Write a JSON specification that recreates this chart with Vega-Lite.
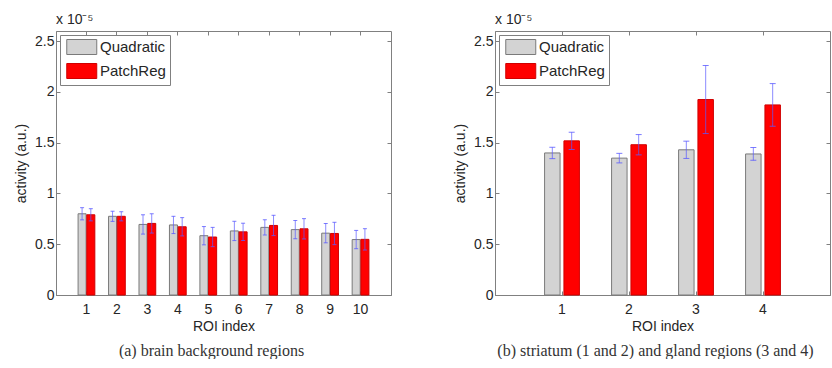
{
  "$schema": "https://vega.github.io/schema/vega-lite/v6.json",
  "background": "white",
  "padding": {"left": 14, "top": 12, "right": 0, "bottom": 0},
  "datasets": {
    "brain": [
      {"roi": 1, "method": "Quadratic", "mean": 0.80, "err": 0.06},
      {"roi": 1, "method": "PatchReg", "mean": 0.79, "err": 0.06},
      {"roi": 2, "method": "Quadratic", "mean": 0.775, "err": 0.05},
      {"roi": 2, "method": "PatchReg", "mean": 0.775, "err": 0.045},
      {"roi": 3, "method": "Quadratic", "mean": 0.695, "err": 0.095},
      {"roi": 3, "method": "PatchReg", "mean": 0.705, "err": 0.095},
      {"roi": 4, "method": "Quadratic", "mean": 0.69, "err": 0.085},
      {"roi": 4, "method": "PatchReg", "mean": 0.672, "err": 0.09},
      {"roi": 5, "method": "Quadratic", "mean": 0.584, "err": 0.09},
      {"roi": 5, "method": "PatchReg", "mean": 0.571, "err": 0.095},
      {"roi": 6, "method": "Quadratic", "mean": 0.631, "err": 0.095},
      {"roi": 6, "method": "PatchReg", "mean": 0.622, "err": 0.085},
      {"roi": 7, "method": "Quadratic", "mean": 0.666, "err": 0.075},
      {"roi": 7, "method": "PatchReg", "mean": 0.685, "err": 0.10},
      {"roi": 8, "method": "Quadratic", "mean": 0.644, "err": 0.09},
      {"roi": 8, "method": "PatchReg", "mean": 0.652, "err": 0.10},
      {"roi": 9, "method": "Quadratic", "mean": 0.609, "err": 0.095},
      {"roi": 9, "method": "PatchReg", "mean": 0.606, "err": 0.11},
      {"roi": 10, "method": "Quadratic", "mean": 0.546, "err": 0.09},
      {"roi": 10, "method": "PatchReg", "mean": 0.548, "err": 0.105}
    ],
    "striatum": [
      {"roi": 1, "method": "Quadratic", "mean": 1.399, "err": 0.056},
      {"roi": 1, "method": "PatchReg", "mean": 1.518, "err": 0.085},
      {"roi": 2, "method": "Quadratic", "mean": 1.348, "err": 0.047},
      {"roi": 2, "method": "PatchReg", "mean": 1.48, "err": 0.10},
      {"roi": 3, "method": "Quadratic", "mean": 1.43, "err": 0.085},
      {"roi": 3, "method": "PatchReg", "mean": 1.925, "err": 0.335},
      {"roi": 4, "method": "Quadratic", "mean": 1.389, "err": 0.063},
      {"roi": 4, "method": "PatchReg", "mean": 1.872, "err": 0.21}
    ]
  },
  "config": {
    "font": "Liberation Sans",
    "view": {"stroke": "#808080", "strokeWidth": 1},
    "axis": {
      "domainColor": "#808080",
      "tickColor": "#808080",
      "labelColor": "#262626",
      "titleColor": "#262626",
      "labelFont": "Liberation Sans",
      "titleFont": "Liberation Sans",
      "labelFontSize": 14,
      "titleFontSize": 14,
      "titleFontWeight": "normal",
      "grid": false,
      "tickSize": -4
    },
    "legend": {
      "orient": "top-left",
      "offset": 4,
      "padding": 4,
      "strokeColor": "#808080",
      "fillColor": "white",
      "labelFont": "Liberation Sans",
      "labelFontSize": 15,
      "labelColor": "#262626",
      "labelOffset": 20,
      "rowPadding": 4,
      "symbolType": "M-0.7,-1H3.3V1H-0.7Z",
      "symbolSize": 225,
      "symbolStrokeWidth": 1,
      "symbolOpacity": 1
    },
    "title": {"font": "Liberation Sans", "fontWeight": "normal", "color": "#262626"}
  },
  "resolve": {
    "scale": {"x": "independent", "xOffset": "independent", "y": "independent", "color": "independent", "stroke": "independent"},
    "legend": {"color": "independent", "stroke": "independent"}
  },
  "spacing": 61,
  "hconcat": [
    {
      "width": 335,
      "height": 264,
      "data": {"name": "brain"},
      "title": {"text": "x 10⁻⁵", "anchor": "start", "frame": "group", "fontSize": 14, "offset": 4},
      "resolve": {"axis": {"x": "independent", "y": "independent"}},
      "layer": [
        {
          "mark": {"type": "bar", "strokeWidth": 1},
          "encoding": {
            "x": {"field": "roi", "type": "ordinal", "sort": "ascending", "scale": {"paddingInner": 0.45, "paddingOuter": 0.725},
                  "axis": {"title": "ROI index", "labelAngle": 0, "labelPadding": 11, "titlePadding": 3}},
            "xOffset": {"field": "method", "type": "nominal", "sort": ["Quadratic", "PatchReg"], "scale": {"paddingInner": 0.08}},
            "y": {"field": "mean", "type": "quantitative", "scale": {"domain": [0, 2.5]},
                  "axis": {"title": "activity (a.u.)", "values": [0, 0.5, 1, 1.5, 2, 2.5], "format": "~g", "labelPadding": 6, "titlePadding": 6}},
            "color": {"field": "method", "type": "nominal", "sort": ["Quadratic", "PatchReg"], "legend": {"title": null},
                      "scale": {"domain": ["Quadratic", "PatchReg"], "range": ["#d3d3d3", "#ff0000"]}},
            "stroke": {"field": "method", "type": "nominal", "sort": ["Quadratic", "PatchReg"], "legend": {"title": null},
                       "scale": {"domain": ["Quadratic", "PatchReg"], "range": ["#7a7a7a", "#d00000"]}}
          }
        },
        {
          "mark": {"type": "errorbar", "ticks": {"size": 4, "color": "#5a5aff", "opacity": 0.8}, "rule": {"color": "#5a5aff", "opacity": 0.7}},
          "encoding": {
            "x": {"field": "roi", "type": "ordinal", "sort": "ascending", "axis": null},
            "xOffset": {"field": "method", "type": "nominal", "sort": ["Quadratic", "PatchReg"]},
            "y": {"field": "mean", "type": "quantitative", "axis": null},
            "yError": {"field": "err"}
          }
        },
        {
          "mark": {"type": "tick", "opacity": 0},
          "encoding": {
            "x": {"field": "roi", "type": "ordinal", "sort": "ascending",
                  "axis": {"orient": "bottom", "labels": false, "ticks": false, "domain": false, "title": "(a) brain background regions",
                           "titleFont": "Liberation Serif", "titleFontSize": 16, "titleColor": "#333333", "titlePadding": 47, "titleX": 155}},
            "y": {"field": "mean", "type": "quantitative",
                  "axis": {"orient": "right", "labels": false, "domain": false, "title": null, "values": [0, 0.5, 1, 1.5, 2, 2.5]}}
          }
        },
        {
          "mark": {"type": "tick", "opacity": 0},
          "encoding": {
            "x": {"field": "roi", "type": "ordinal", "sort": "ascending",
                  "axis": {"orient": "top", "labels": false, "domain": false, "title": null}}
          }
        }
      ]
    },
    {
      "width": 335,
      "height": 264,
      "data": {"name": "striatum"},
      "title": {"text": "x 10⁻⁵", "anchor": "start", "frame": "group", "fontSize": 14, "offset": 4},
      "resolve": {"axis": {"x": "independent", "y": "independent"}},
      "layer": [
        {
          "mark": {"type": "bar", "strokeWidth": 1},
          "encoding": {
            "x": {"field": "roi", "type": "ordinal", "sort": "ascending", "scale": {"paddingInner": 0.48, "paddingOuter": 0.74},
                  "axis": {"title": "ROI index", "labelAngle": 0, "labelPadding": 11, "titlePadding": 3}},
            "xOffset": {"field": "method", "type": "nominal", "sort": ["Quadratic", "PatchReg"], "scale": {"paddingInner": 0.2}},
            "y": {"field": "mean", "type": "quantitative", "scale": {"domain": [0, 2.5]},
                  "axis": {"title": "activity (a.u.)", "values": [0, 0.5, 1, 1.5, 2, 2.5], "format": "~g", "labelPadding": 6, "titlePadding": 6}},
            "color": {"field": "method", "type": "nominal", "sort": ["Quadratic", "PatchReg"], "legend": {"title": null},
                      "scale": {"domain": ["Quadratic", "PatchReg"], "range": ["#d3d3d3", "#ff0000"]}},
            "stroke": {"field": "method", "type": "nominal", "sort": ["Quadratic", "PatchReg"], "legend": {"title": null},
                       "scale": {"domain": ["Quadratic", "PatchReg"], "range": ["#7a7a7a", "#d00000"]}}
          }
        },
        {
          "mark": {"type": "errorbar", "ticks": {"size": 6, "color": "#5a5aff", "opacity": 0.8}, "rule": {"color": "#5a5aff", "opacity": 0.7}},
          "encoding": {
            "x": {"field": "roi", "type": "ordinal", "sort": "ascending", "axis": null},
            "xOffset": {"field": "method", "type": "nominal", "sort": ["Quadratic", "PatchReg"]},
            "y": {"field": "mean", "type": "quantitative", "axis": null},
            "yError": {"field": "err"}
          }
        },
        {
          "mark": {"type": "tick", "opacity": 0},
          "encoding": {
            "x": {"field": "roi", "type": "ordinal", "sort": "ascending",
                  "axis": {"orient": "bottom", "labels": false, "ticks": false, "domain": false, "title": "(b) striatum (1 and 2) and gland regions (3 and 4)",
                           "titleFont": "Liberation Serif", "titleFontSize": 16, "titleColor": "#333333", "titlePadding": 47, "titleX": 160}},
            "y": {"field": "mean", "type": "quantitative",
                  "axis": {"orient": "right", "labels": false, "domain": false, "title": null, "values": [0, 0.5, 1, 1.5, 2, 2.5]}}
          }
        },
        {
          "mark": {"type": "tick", "opacity": 0},
          "encoding": {
            "x": {"field": "roi", "type": "ordinal", "sort": "ascending",
                  "axis": {"orient": "top", "labels": false, "domain": false, "title": null}}
          }
        }
      ]
    }
  ]
}
